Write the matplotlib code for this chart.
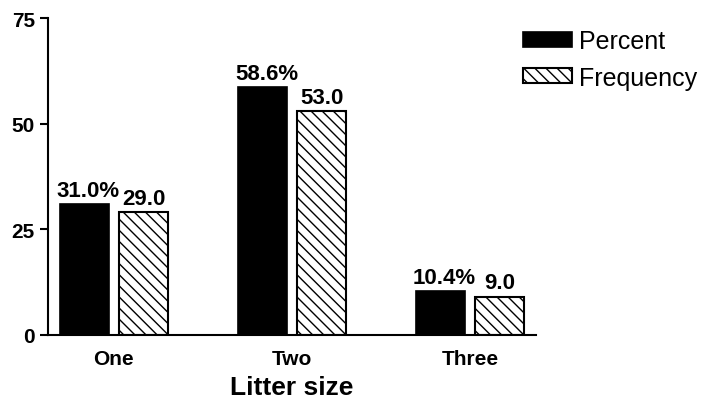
import matplotlib
matplotlib.use("Agg")
import matplotlib.pyplot as plt
import numpy as np

categories = ["One", "Two", "Three"]
percent = [31.0, 58.6, 10.4]
frequency = [29.0, 53.0, 9.0]
percent_labels = ["31.0%", "58.6%", "10.4%"]
frequency_labels = ["29.0", "53.0", "9.0"]
yticks = [0, 25, 50, 75]

plt.rcParams['font.family'] = ['Liberation Sans', 'DejaVu Sans']
plt.rcParams['hatch.linewidth'] = 1.0

fig = plt.figure(figsize=(7.08, 4.02), dpi=100)
ax = fig.add_axes([0.0678, 0.1642, 0.757 - 0.0678, 0.9527 - 0.1642])

x = np.arange(len(categories))
w = 0.275
off = 0.167
b1 = ax.bar(x - off, percent, w, color='black', edgecolor='black', linewidth=1.2, label='Percent')
b2 = ax.bar(x + off, frequency, w, color='white', edgecolor='black', linewidth=1.5,
            hatch='\\\\\\', label='Frequency')

for rect, lab in zip(b1, percent_labels):
    ax.annotate(lab, (rect.get_x() + rect.get_width() / 2, rect.get_height()),
                xytext=(3, 2.5), textcoords='offset points', ha='center', va='bottom',
                fontsize=16, fontweight='bold')
for rect, lab in zip(b2, frequency_labels):
    ax.annotate(lab, (rect.get_x() + rect.get_width() / 2, rect.get_height()),
                xytext=(0, 2.5), textcoords='offset points', ha='center', va='bottom',
                fontsize=16, fontweight='bold')

ax.set_xlim(-0.37, 2.37)
ax.set_ylim(0, 75)
ax.set_yticks(yticks)
ax.set_xticks(x)
ax.set_xticklabels(categories, fontsize=15, fontweight='bold')
ax.tick_params(axis='x', length=0, pad=10)
ax.tick_params(axis='y', length=6, width=1.5, pad=3.5, labelsize=15)
for t in ax.get_yticklabels():
    t.set_fontweight('bold')
ax.spines['top'].set_visible(False)
ax.spines['right'].set_visible(False)
ax.spines['left'].set_linewidth(1.5)
ax.spines['bottom'].set_linewidth(1.5)
ax.set_xlabel('Litter size', fontsize=19, fontweight='bold', labelpad=5)

leg = fig.legend(handles=[b1, b2], loc='upper left', bbox_to_anchor=(0.739, 0.925),
                 frameon=False, fontsize=18, handlelength=1.95, handleheight=0.55,
                 handletextpad=0.3, labelspacing=0.5, borderaxespad=0, borderpad=0)

fig.savefig('out.png', dpi=100)
